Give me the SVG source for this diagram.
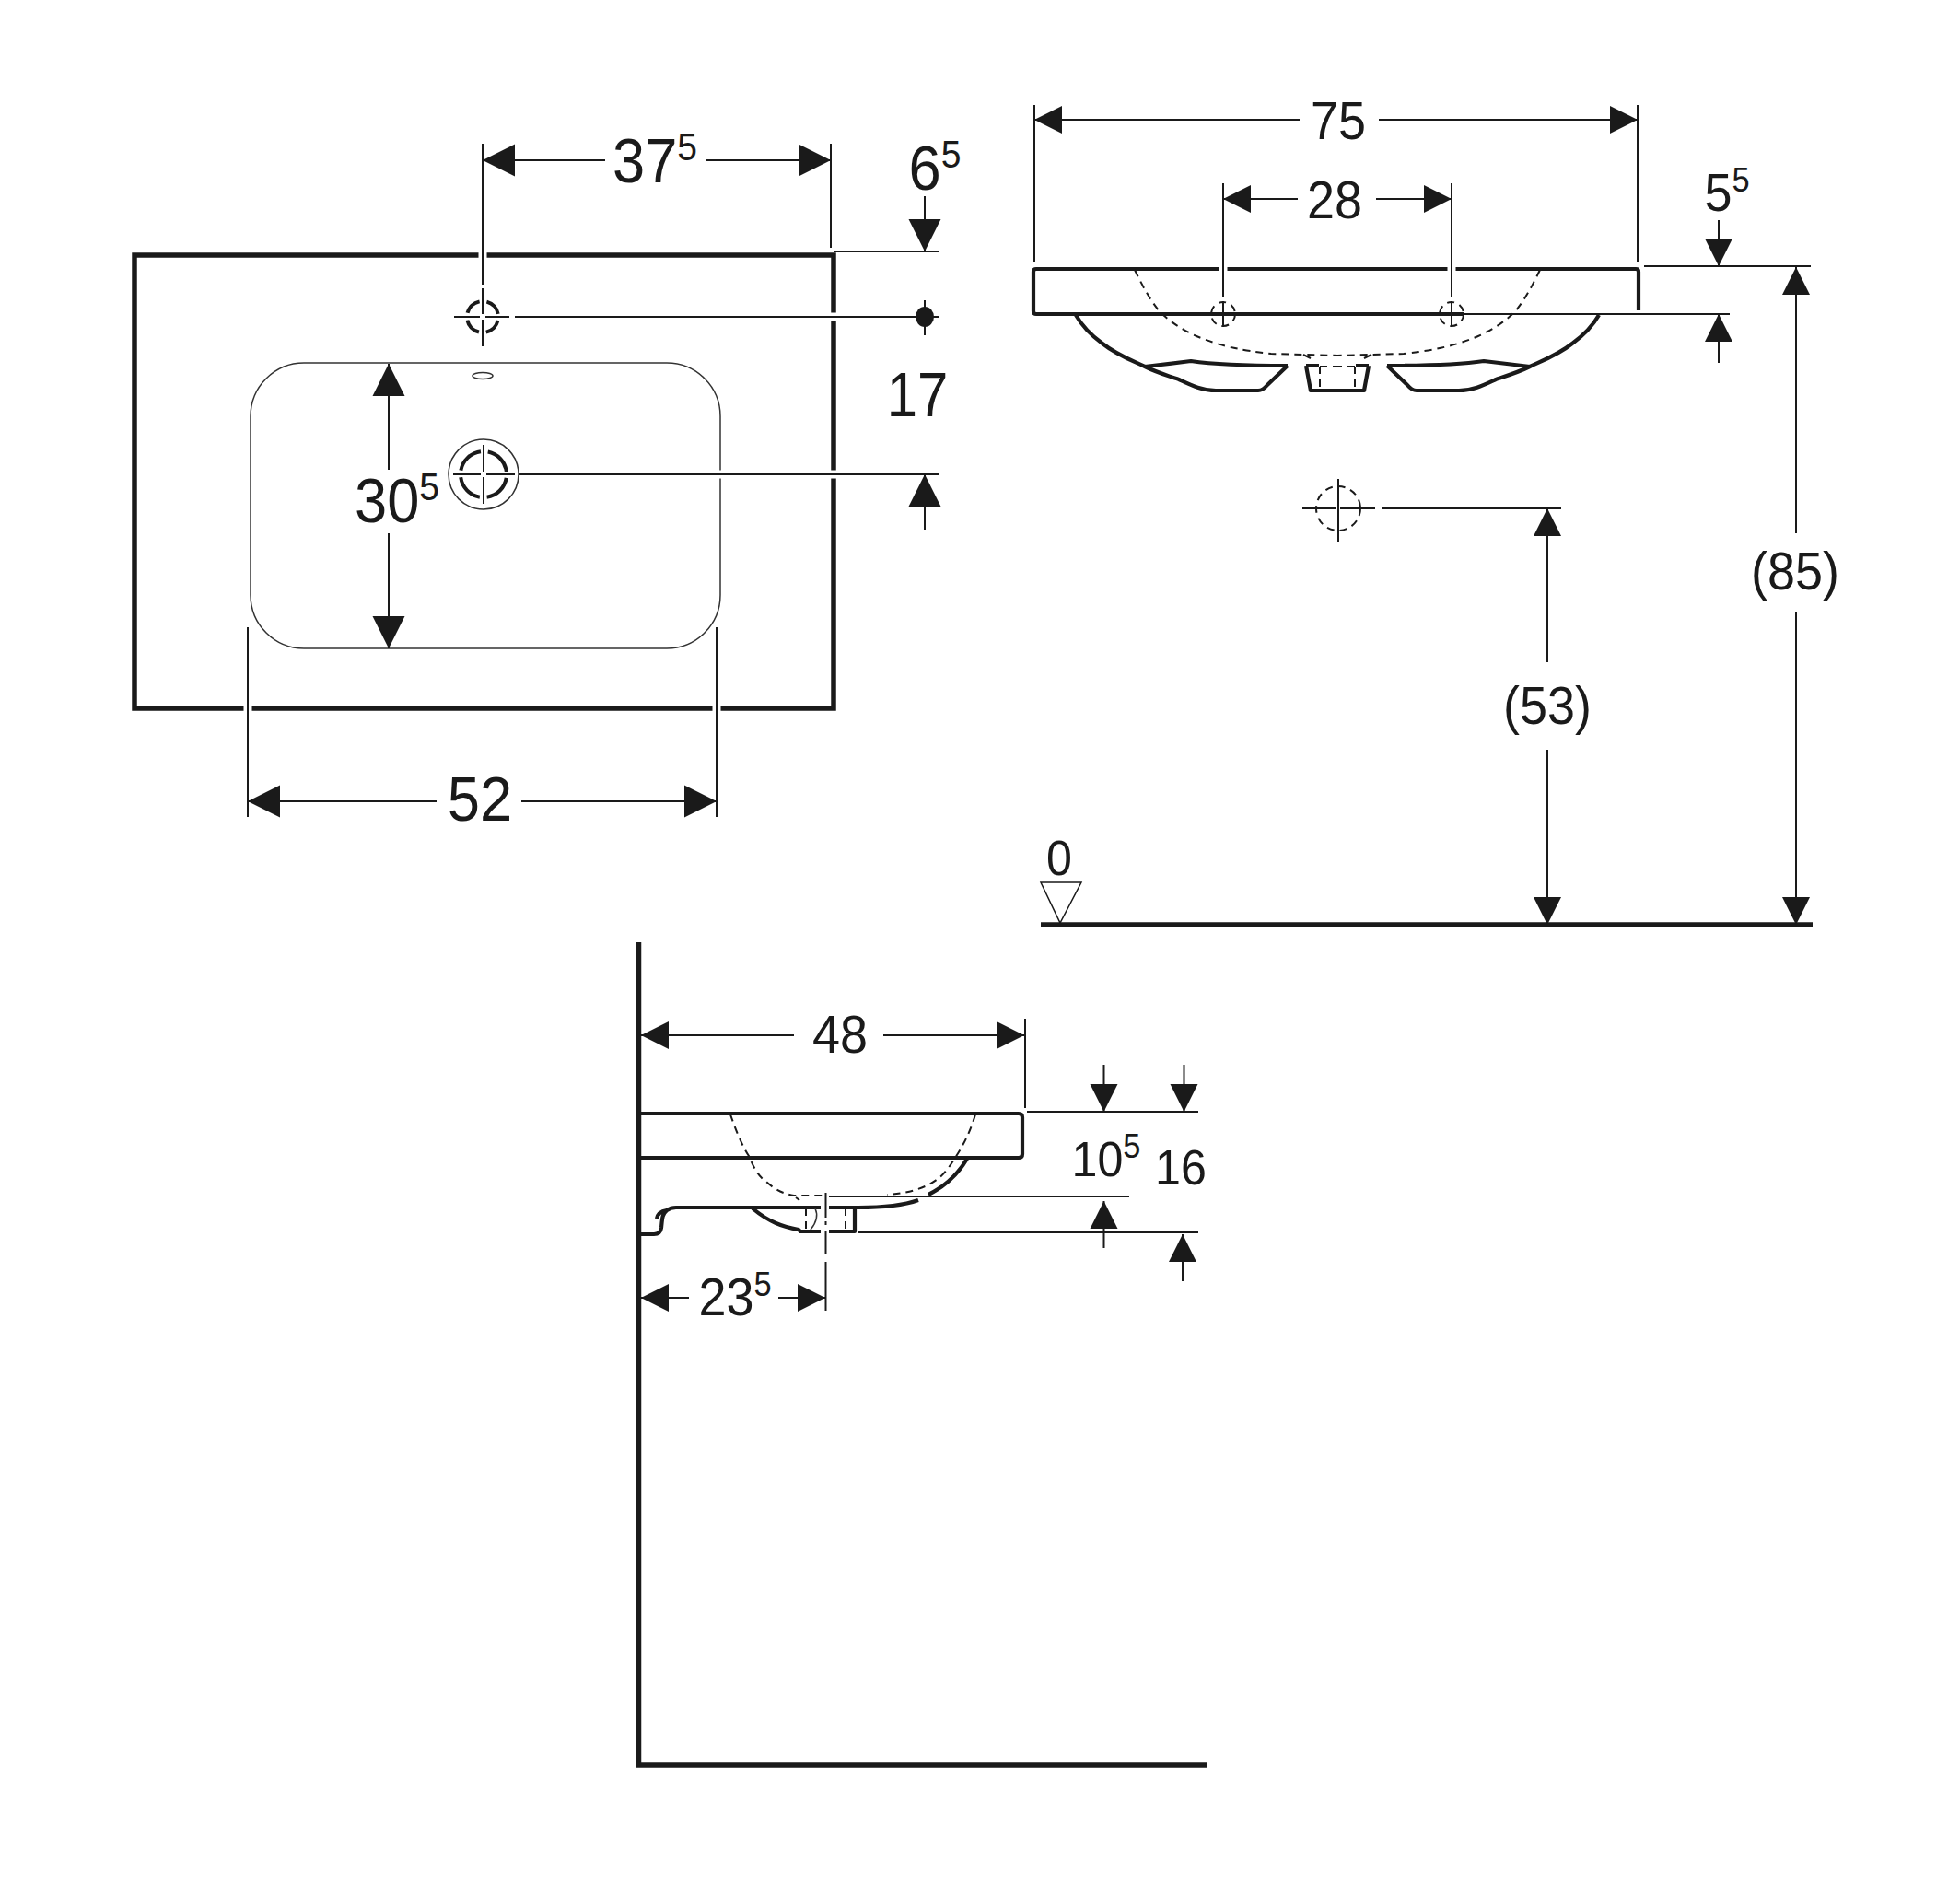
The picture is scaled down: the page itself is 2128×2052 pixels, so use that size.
<svg xmlns="http://www.w3.org/2000/svg" xmlns:xlink="http://www.w3.org/1999/xlink" width="2128" height="2052" viewBox="0 0 2128 2052">
<style>
text{font-family:"Liberation Sans",Arial,sans-serif;fill:#1a1a1a;text-anchor:middle}
.t64{font-size:68px}.t54{font-size:58px}.t50{font-size:54px}
.s64{font-size:42px}.s54{font-size:37px}
.o{fill:none;stroke:#1a1a1a;stroke-width:5.500}
.m{fill:none;stroke:#1a1a1a;stroke-width:4.200;stroke-linejoin:round}
.n{fill:none;stroke:#1a1a1a;stroke-width:2}
.f{fill:none;stroke:#333;stroke-width:1.500}
.d{fill:none;stroke:#1a1a1a;stroke-width:2;stroke-dasharray:8 6}
.w{stroke:#fff;stroke-width:9}
.a{fill:#1a1a1a}
</style>
<defs>
<polygon id="A" class="a" points="0,0 -35,-17.5 -35,17.5"/>
<polygon id="B" class="a" points="0,0 -30,-15 -30,15"/>
</defs>
<rect width="2128" height="2052" fill="#fff"/>

<g id="top-view">
<rect class="o" x="146" y="277" width="759" height="492"/>
<rect class="f" x="272" y="394" width="510" height="310" rx="58" ry="58"/>
<path class="w" d="M524 270V285M269 760V778M778 760V778M900 344H912M900 515H912M776 515H788"/>
<ellipse class="f" cx="524" cy="408" rx="11" ry="3.500"/>
<circle cx="524" cy="344" r="17" fill="none" stroke="#1a1a1a" stroke-width="4" stroke-dasharray="18.7 8" stroke-dashoffset="-4"/>
<path class="n" d="M493 344H521M527 344H553M524 313V341M524 347V376"/>
<circle class="f" cx="525" cy="515" r="38"/>
<circle cx="525" cy="515" r="25" fill="none" stroke="#1a1a1a" stroke-width="4" stroke-dasharray="31.3 8" stroke-dashoffset="-4"/>
<path class="n" d="M492 515H522M528 515H559M525 483V512M525 518V547"/>
<ellipse class="a" cx="1004" cy="344" rx="10" ry="11"/>
</g>

<g id="front-view">
<path class="m" d="M1779 337V295Q1779 292 1776 292H1125Q1122 292 1122 295V338Q1122 341 1125 341H1590"/>
<path class="w" d="M1328 285V300M1576 285V300"/>
<g id="bowl-half">
<path class="m" d="M1168 342C1176 356 1186 365 1197 373C1212 385 1228 391 1243 398C1255 404 1268 408 1280 412C1293 418 1305 424 1320 424H1366Q1371 424 1376 418L1398 397M1243 398L1293 392C1320 396 1360 397 1398 397M1418 397H1432M1418 397L1423 424H1452"/>
<path class="d" d="M1232 293C1245 320 1255 335 1263 342C1285 362 1320 378 1380 384L1452 386M1433 398V424M1433 398H1452"/>
<path class="n" d="M1415 385L1423 389"/>
</g>
<use href="#bowl-half" xlink:href="#bowl-half" transform="translate(2904 0) scale(-1 1)"/>
<circle class="d" cx="1328" cy="341" r="13" stroke-dasharray="5 4"/>
<circle class="d" cx="1576" cy="341" r="13" stroke-dasharray="5 4"/>
<path class="n" d="M1314 341H1342M1562 341H1590"/>
<circle class="d" cx="1453" cy="552" r="24" stroke-width="1.5" stroke-dasharray="5 5"/>
<path class="n" d="M1414 552H1451M1455 552H1493M1453 520V588"/>
<path class="o" d="M1130 1004H1968"/>
<path fill="#fff" stroke="#1a1a1a" stroke-width="1.5" d="M1130 958H1174L1151 1002Z"/>
<text class="t50" transform="translate(1150 950) scale(.93 1)">0</text>
</g>

<g id="side-view">
<path class="o" d="M693.500 1023V1916H1310"/>
<path class="m" d="M696 1209H1106Q1110 1209 1110 1213V1253Q1110 1257 1106 1257H696"/>
<path class="m" d="M696 1340H710Q717 1340 718 1333C719 1323 719 1318 724 1314Q728 1311 734 1311H891M900 1311H932C955 1311 980 1309 997 1303M1008 1297C1028 1287 1040 1275 1050 1258M713 1323C714 1317 718 1315 724 1314M817 1312C835 1327 850 1332 867 1335L869 1337H891M900 1337H928V1311"/>
<path class="d" d="M793 1210C798 1225 806 1245 813 1255C820 1272 825 1278 832 1283C842 1292 850 1296 862 1298H895M1059 1210C1053 1230 1045 1245 1037 1257C1030 1268 1025 1275 1018 1280C1005 1290 985 1296 963 1297M875 1312V1335M918 1312V1335"/>
<path class="f" d="M885 1312Q890 1323 880 1335"/>
<path class="n" d="M864 1300L868 1303M896.500 1295V1322M896.500 1326V1330M896.500 1337V1362M896.500 1370V1423"/>
</g>

<g id="connectors">
<path class="n" d="M524 156V309M902 156V269M905 273H1020M559 344H1020M563 515H1020M269 681V887M778 681V887M524 174H657M767 174H902M1004 213V273M1004 326V364M1004 515V575M422 395V510M422 579V704M269 870H474M566 870H778"/>
<path class="n" d="M1123 114V285M1778 114V285M1328 199V322M1576 199V322M1328 327V355M1576 327V355M1123 130H1411M1497 130H1778M1328 216H1409M1494 216H1576M1785 289H1966M1590 341H1878M1866 239V289M1866 341V394M1950 290V579M1950 665V1004M1680 552V719M1680 814V1004M1500 552H1695"/>
<path class="n" d="M1113 1106V1203M696 1124H862M959 1124H1112M1115 1207H1301M900 1299H1226M932 1338H1301M1198.500 1156V1207M1285.500 1156V1207M1198.500 1304V1355M1284 1340V1391M696 1409H748M845 1409H896"/>
<use href="#A" xlink:href="#A" transform="translate(524 174) rotate(180)"/>
<use href="#A" xlink:href="#A" transform="translate(902 174)"/>
<use href="#A" xlink:href="#A" transform="translate(1004 273) rotate(90)"/>
<use href="#A" xlink:href="#A" transform="translate(1004 515) rotate(-90)"/>
<use href="#A" xlink:href="#A" transform="translate(422 395) rotate(-90)"/>
<use href="#A" xlink:href="#A" transform="translate(422 704) rotate(90)"/>
<use href="#A" xlink:href="#A" transform="translate(269 870) rotate(180)"/>
<use href="#A" xlink:href="#A" transform="translate(778 870)"/>
<use href="#B" xlink:href="#B" transform="translate(1123 130) rotate(180)"/>
<use href="#B" xlink:href="#B" transform="translate(1778 130)"/>
<use href="#B" xlink:href="#B" transform="translate(1328 216) rotate(180)"/>
<use href="#B" xlink:href="#B" transform="translate(1576 216)"/>
<use href="#B" xlink:href="#B" transform="translate(1866 289) rotate(90)"/>
<use href="#B" xlink:href="#B" transform="translate(1866 341) rotate(-90)"/>
<use href="#B" xlink:href="#B" transform="translate(1950 290) rotate(-90)"/>
<use href="#B" xlink:href="#B" transform="translate(1950 1004) rotate(90)"/>
<use href="#B" xlink:href="#B" transform="translate(1680 552) rotate(-90)"/>
<use href="#B" xlink:href="#B" transform="translate(1680 1004) rotate(90)"/>
<use href="#B" xlink:href="#B" transform="translate(696 1124) rotate(180)"/>
<use href="#B" xlink:href="#B" transform="translate(1112 1124)"/>
<use href="#B" xlink:href="#B" transform="translate(1198.5 1207) rotate(90)"/>
<use href="#B" xlink:href="#B" transform="translate(1285.5 1207) rotate(90)"/>
<use href="#B" xlink:href="#B" transform="translate(1198.5 1304) rotate(-90)"/>
<use href="#B" xlink:href="#B" transform="translate(1284 1340) rotate(-90)"/>
<use href="#B" xlink:href="#B" transform="translate(696 1409) rotate(180)"/>
<use href="#B" xlink:href="#B" transform="translate(896 1409)"/>
</g>

<g id="labels">
<text class="t64" transform="translate(711 198) scale(.93 1)">37<tspan class="s64" dy="-24">5</tspan></text>
<text class="t64" transform="translate(1015 206) scale(.93 1)">6<tspan class="s64" dy="-24">5</tspan></text>
<text class="t64" transform="translate(996 452) scale(.88 1)">17</text>
<text class="t64" transform="translate(431 567) scale(.93 1)">30<tspan class="s64" dy="-24">5</tspan></text>
<text class="t64" transform="translate(521 891) scale(.93 1)">52</text>
<text class="t54" transform="translate(1453 151) scale(.93 1)">75</text>
<text class="t54" transform="translate(1449 237) scale(.93 1)">28</text>
<text class="t54" transform="translate(1875 229) scale(.93 1)">5<tspan class="s54" dy="-21">5</tspan></text>
<text class="t54" transform="translate(1949 640) scale(.93 1)">(85)</text>
<text class="t54" transform="translate(1680 786) scale(.93 1)">(53)</text>
<text class="t54" transform="translate(912 1143) scale(.93 1)">48</text>
<text class="t50" transform="translate(1201 1277) scale(.93 1)">10<tspan class="s54" dy="-20">5</tspan></text>
<text class="t50" transform="translate(1282 1286) scale(.93 1)">16</text>
<text class="t54" transform="translate(798 1428) scale(.93 1)">23<tspan class="s54" dy="-21">5</tspan></text>
</g>
</svg>
